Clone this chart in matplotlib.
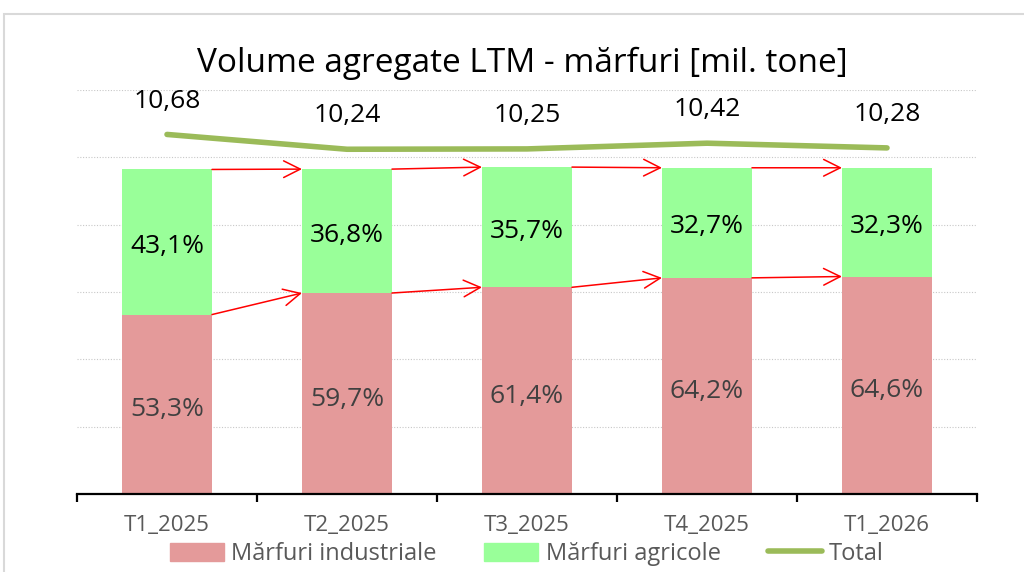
import matplotlib
matplotlib.use("Agg")
import matplotlib.pyplot as plt
from matplotlib.patches import Rectangle, Patch
from matplotlib.lines import Line2D
import numpy as np

plt.rcParams["font.family"] = ["Open Sans", "DejaVu Sans"]

# data
periods = ["T1_2025", "T2_2025", "T3_2025", "T4_2025", "T1_2026"]
industrial = [53.3, 59.7, 61.4, 64.2, 64.6]
agricultural = [43.1, 36.8, 35.7, 32.7, 32.3]
total = [10.68, 10.24, 10.25, 10.42, 10.28]

PINK = "#E49A9A"
GREEN = "#99FF99"
OLIVE = "#9BBB59"
GREY_TXT = "#595959"

fig = plt.figure(figsize=(10.24, 5.72), dpi=100)
ax = fig.add_axes([77 / 1024, 78 / 572, 900 / 1024, 404 / 572])

x = np.arange(len(periods))
w = 0.5
ax.bar(x, industrial, w, color=PINK, zorder=2)
ax.bar(x, agricultural, w, bottom=industrial, color=GREEN, zorder=2)

tops = [a + b for a, b in zip(industrial, agricultural)]
for i in range(len(x)):
    ax.annotate(f"{industrial[i]:.1f}%".replace(".", ","), (x[i], industrial[i] / 2),
                xytext=(0, -4), textcoords="offset points",
                ha="center", va="center", fontsize=19, color="#404040", zorder=4)
    ax.annotate(f"{agricultural[i]:.1f}%".replace(".", ","),
                (x[i], industrial[i] + agricultural[i] / 2),
                xytext=(0, -3), textcoords="offset points",
                ha="center", va="center", fontsize=19, color="black", zorder=4)

# red arrows between bars (segment boundary and bar top)
for i in range(len(x) - 1):
    for vals in (industrial, tops):
        ax.annotate("", xy=(x[i + 1] - w / 2, vals[i + 1]), xytext=(x[i] + w / 2, vals[i]),
                    arrowprops=dict(arrowstyle="->", color="red", lw=1.1,
                                    mutation_scale=30, shrinkA=0, shrinkB=0),
                    zorder=5)

ax.set_xlim(-0.5, len(x) - 0.5)
ax.set_ylim(0, 120)
ax.set_yticks(np.arange(0, 121, 20))
ax.yaxis.grid(True, linestyle=(0, (1, 1.5)), color="#C8C8C8", lw=0.8, zorder=0)
ax.tick_params(axis="y", length=0, labelleft=False)
for s in ("left", "right", "top"):
    ax.spines[s].set_visible(False)
ax.spines["bottom"].set_linewidth(1.6)
ax.spines["bottom"].set_zorder(6)

ax.set_xticks(x)
ax.set_xticklabels(periods, fontsize=16, color=GREY_TXT)
ax.tick_params(axis="x", which="major", length=0, pad=15)
ax.set_xticks(np.arange(-0.5, len(x), 1), minor=True)
ax.tick_params(axis="x", which="minor", length=6, width=1.6, direction="out")

# total on a secondary scale
ax2 = ax.twinx()
ax2.set_ylim(0, 12)
ax2.axis("off")
ax2.plot(x, total, color=OLIVE, lw=4, solid_capstyle="round", zorder=3)
for i in range(len(x)):
    ax2.annotate(f"{total[i]:.2f}".replace(".", ","), (x[i], total[i]),
                 xytext=(0, 24), textcoords="offset points",
                 ha="center", va="center", fontsize=19, color="black")

fig.text(522 / 1024, 1 - 63 / 572, "Volume agregate LTM - mărfuri [mil. tone]",
         ha="center", va="center", fontsize=24, color="black")

handles = [Patch(color=PINK), Patch(color=GREEN),
           Line2D([0], [0], color=OLIVE, lw=4, solid_capstyle="round")]
fig.legend(handles, ["Mărfuri industriale", "Mărfuri agricole", "Total"],
           loc="center", bbox_to_anchor=(527 / 1024, 1 - 554 / 572), ncol=3,
           frameon=False, fontsize=17, labelcolor=GREY_TXT,
           handlelength=2.3, handleheight=0.8, handletextpad=0.3, columnspacing=2.0)

# light frame of the chart area
fig.patches.append(Rectangle((4 / 1024, -0.05), 1.1, 1 - 14 / 572 + 0.05,
                             transform=fig.transFigure, fill=False,
                             edgecolor="#D9D9D9", lw=1.5))

fig.savefig("out.png", dpi=100)
